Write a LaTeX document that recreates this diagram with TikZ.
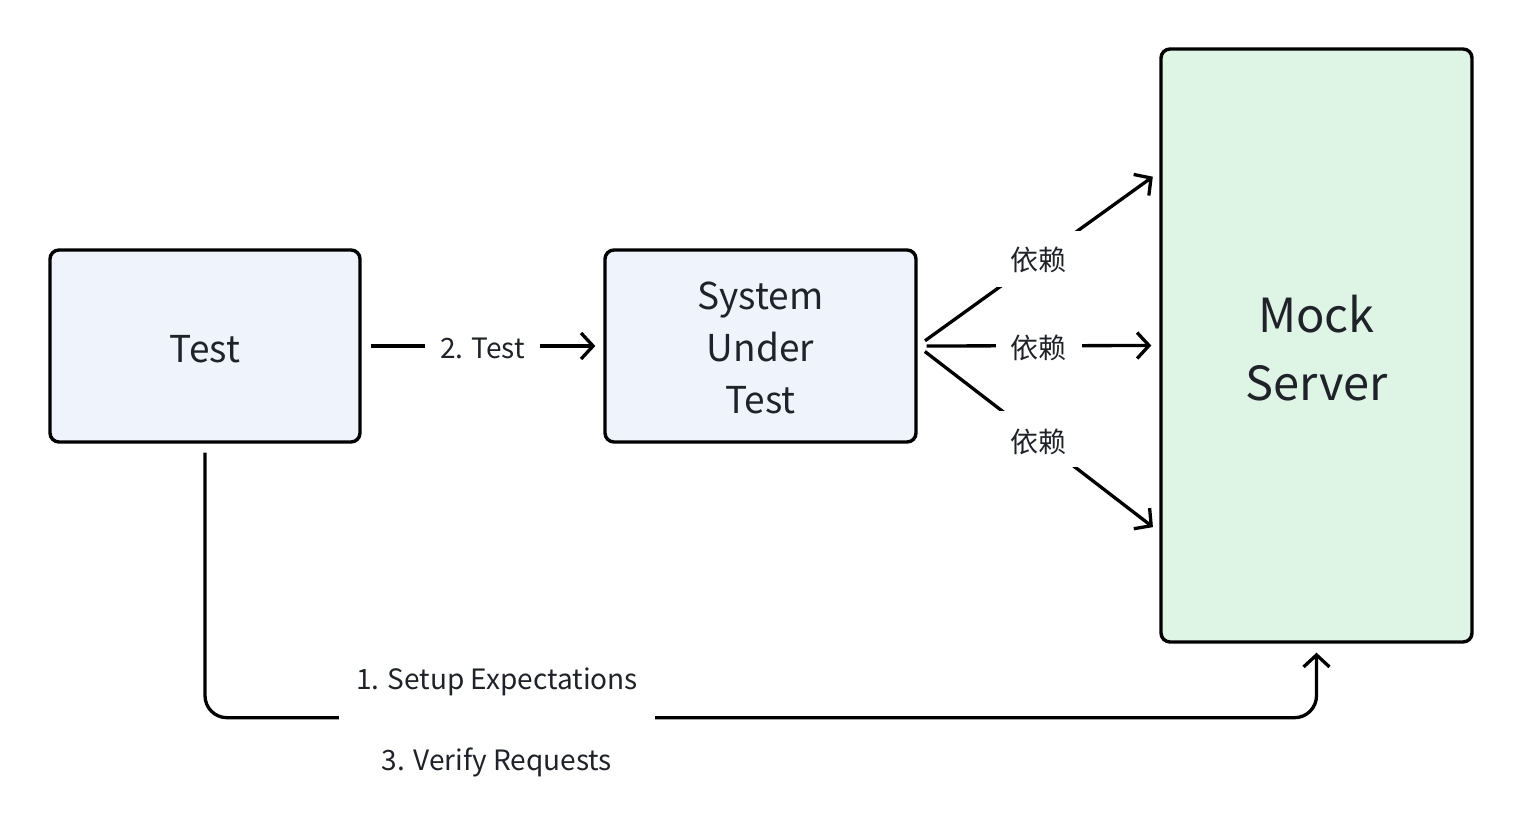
\documentclass[tikz,border=0pt]{standalone}
\usepackage{fontspec}
\setmainfont{Noto Sans CJK SC}
\usetikzlibrary{arrows.meta}
\definecolor{txt}{HTML}{1F2329}
\definecolor{bluefill}{HTML}{EEF3FC}
\definecolor{greenfill}{HTML}{DEF5E5}
\newcommand\dnbox[2]{\raisebox{-#1}[\height][\depth]{#2}}
\tikzset{
  box/.style={draw=black, line width=3.4pt, rounded corners=9pt, text=txt, inner sep=0pt},
  conn/.style={draw=black, line width=3.3pt, shorten <=9pt, shorten >=8pt, -{Straight Barb[length=12pt,width=26pt,line width=3.3pt]}},
  lab/.style={fill=white, text=txt, font=\fontsize{28}{32}\selectfont, inner xsep=15pt, inner ysep=15pt},
}
\begin{document}
\begin{tikzpicture}[x=1pt,y=-1pt]
\useasboundingbox (0,0) rectangle (1522,834);
\node[box, fill=bluefill, minimum width=310pt, minimum height=192pt, font=\fontsize{37}{52}\selectfont] (test) at (205,346) {\dnbox{3pt}{Test}};
\node[box, fill=bluefill, minimum width=311pt, minimum height=192pt, font=\fontsize{37}{52}\selectfont] (sut) at (760.5,346) {\dnbox{5.5pt}{\begin{tabular}{@{}c@{}}System\\Under\\Test\end{tabular}}};
\node[box, fill=greenfill, minimum width=311pt, minimum height=593pt, font=\fontsize{47}{68}\selectfont] (mock) at (1316.5,345.5) {\dnbox{7pt}{\begin{tabular}{@{}c@{}}Mock\\Server\end{tabular}}};

\draw[conn] (test.east) -- node[lab] (l2) {\dnbox{2pt}{2. Test}} (sut.west);
\draw[conn] (sut.east) -- node[lab] (d1) {\dnbox{1pt}{依赖}} ([yshift=173.5pt]mock.west);
\draw[conn] (sut.east) -- node[lab] (d2) {\dnbox{2pt}{依赖}} (mock.west);
\draw[conn] (sut.east) -- node[lab] (d3) {\dnbox{3pt}{依赖}} ([yshift=-186.5pt]mock.west);

\draw[conn, rounded corners=22pt, shorten >=9pt] (test.south) |- ([yshift=-74pt]mock.south) -- (mock.south);
\node[lab, align=center, inner xsep=17pt, inner ysep=2pt] (l13) at (497,722.5) {1. Setup Expectations\\[49pt]3. Verify Requests};
\end{tikzpicture}
\end{document}
